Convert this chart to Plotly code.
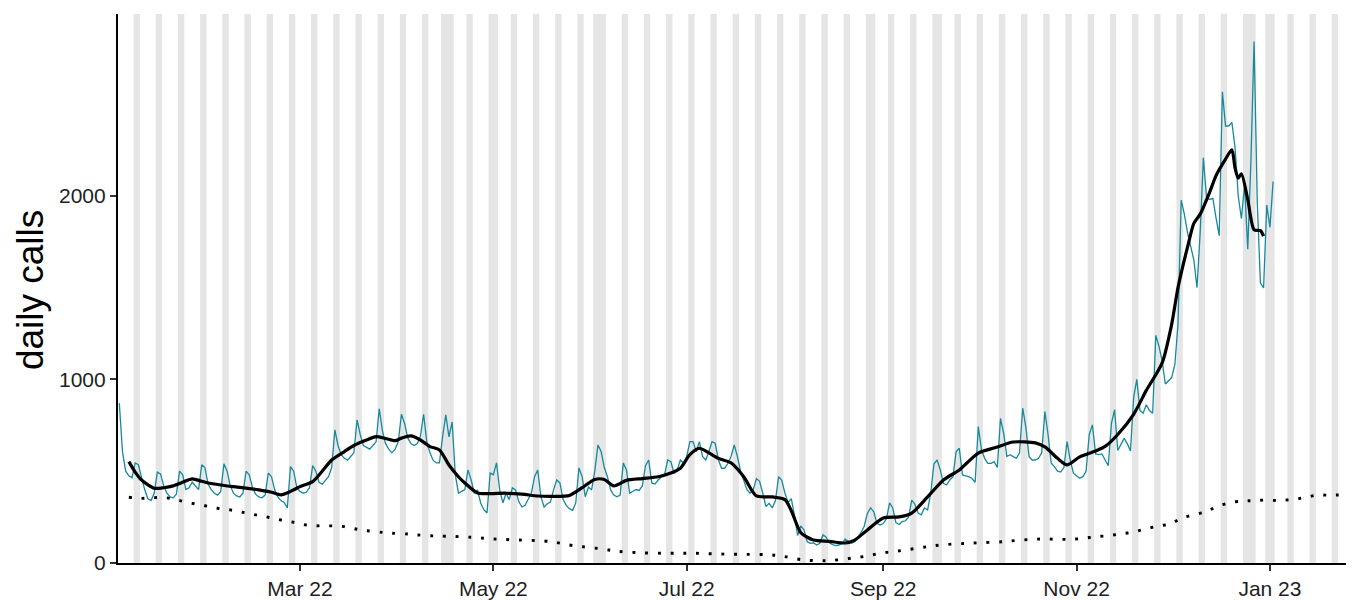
import pandas as pd
import plotly.graph_objects as go

# ---------------- data ----------------
start_date = "2022-01-03"
# one row per week, Monday .. Sunday
daily_calls = [
    870, 605, 500, 475, 465, 545, 535,
    465, 400, 350, 340, 380, 495, 485,
    420, 380, 360, 355, 375, 500, 480,
    400, 410, 440, 420, 400, 535, 520,
    430, 400, 380, 370, 390, 540, 500,
    420, 380, 365, 360, 380, 500, 480,
    410, 375, 360, 355, 370, 490, 470,
    400, 360, 340, 330, 300, 525, 500,
    410, 390, 380, 385, 410, 530, 500,
    440, 430, 450, 470, 520, 725, 640,
    590, 570, 560, 580, 600, 780, 700,
    640, 630, 620, 640, 660, 840, 720,
    650, 620, 600, 620, 660, 810, 760,
    680, 650, 640, 650, 690, 810, 660,
    600, 560, 545, 545, 690, 807, 687,
    768, 480, 380, 390, 400, 507, 452,
    380, 398, 327, 290, 272, 490, 481,
    545, 398, 327, 380, 345, 409, 398,
    336, 305, 314, 345, 380, 470, 507,
    361, 305, 323, 332, 398, 452, 436,
    345, 314, 296, 287, 327, 518, 470,
    361, 414, 398, 500, 643, 607, 520,
    470, 398, 370, 361, 370, 545, 507,
    380, 389, 400, 395, 420, 530, 561,
    436, 430, 452, 470, 480, 561, 552,
    489, 507, 561, 543, 580, 661, 661,
    607, 661, 580, 561, 607, 661, 652,
    561, 516, 516, 543, 580, 643, 580,
    500, 450, 400, 380, 400, 460, 445,
    380, 307, 325, 300, 340, 470, 450,
    380, 330, 350, 260, 150, 202, 180,
    116, 107, 110, 98, 107, 153, 140,
    110, 100, 95, 98, 105, 130, 120,
    107, 116, 140, 165, 200, 270, 300,
    280, 216, 207, 215, 240, 327, 300,
    220, 210, 225, 230, 250, 343, 320,
    272, 262, 300, 289, 380, 540, 561,
    507, 434, 425, 452, 470, 607, 625,
    480, 475, 470, 460, 440, 743, 616,
    570, 543, 543, 552, 520, 788, 706,
    580, 590, 580, 570, 600, 843, 740,
    579, 561, 561, 570, 600, 825, 700,
    543, 525, 500, 495, 520, 661, 561,
    489, 475, 461, 470, 500, 700, 752,
    594, 590, 594, 560, 530, 760, 835,
    613, 650, 679, 650, 610, 900, 1000,
    830, 816, 862, 830, 816, 1240, 1180,
    1100, 975, 990, 1010, 1080, 1300, 1976,
    1900, 1800, 1720, 1650, 1500, 1800, 2207,
    1990, 1980, 1986, 1880, 1783, 2566, 2380,
    2380, 2400, 2262, 2000, 1875, 2060, 1709,
    2189, 2840, 1967, 1525, 1498, 1949, 1829,
    2078,
]

# smoothed (7-day) line
avg_dates = [
    "2022-01-06", "2022-01-08", "2022-01-10", "2022-01-14", "2022-01-17", "2022-01-20",
    "2022-01-23", "2022-01-26", "2022-01-29", "2022-01-31", "2022-02-04", "2022-02-08",
    "2022-02-12", "2022-02-16", "2022-02-20", "2022-02-23", "2022-02-26", "2022-03-01",
    "2022-03-05", "2022-03-08", "2022-03-11", "2022-03-15", "2022-03-18", "2022-03-22",
    "2022-03-25", "2022-03-28", "2022-03-31", "2022-04-02", "2022-04-05", "2022-04-08",
    "2022-04-11", "2022-04-14", "2022-04-17", "2022-04-20", "2022-04-22", "2022-04-26",
    "2022-04-30", "2022-05-05", "2022-05-10", "2022-05-15", "2022-05-20", "2022-05-25",
    "2022-05-29", "2022-06-02", "2022-06-05", "2022-06-08", "2022-06-12", "2022-06-17",
    "2022-06-22", "2022-06-26", "2022-06-29", "2022-07-02", "2022-07-05", "2022-07-08",
    "2022-07-11", "2022-07-15", "2022-07-19", "2022-07-23", "2022-07-28", "2022-08-01",
    "2022-08-03", "2022-08-06", "2022-08-10", "2022-08-15", "2022-08-20", "2022-08-23",
    "2022-08-27", "2022-09-01", "2022-09-06", "2022-09-10", "2022-09-15", "2022-09-20",
    "2022-09-25", "2022-10-01", "2022-10-07", "2022-10-12", "2022-10-19", "2022-10-22",
    "2022-10-26", "2022-10-29", "2022-11-02", "2022-11-07", "2022-11-10", "2022-11-14",
    "2022-11-19", "2022-11-23", "2022-11-28", "2022-12-01", "2022-12-03", "2022-12-06",
    "2022-12-08", "2022-12-10", "2022-12-13", "2022-12-15", "2022-12-18", "2022-12-20",
    "2022-12-21", "2022-12-22", "2022-12-23", "2022-12-25", "2022-12-27", "2022-12-29",
    "2022-12-30",
]
avg_values = [
    552, 495, 452, 407, 410, 420,
    440, 458, 445, 436, 425, 416,
    408, 398, 385, 371, 390, 416,
    443, 500, 561, 607, 640, 670,
    688, 678, 666, 680, 692, 670,
    634, 616, 534, 470, 436, 381,
    378, 380, 375, 365, 363, 368,
    410, 455, 455, 420, 450, 460,
    470, 490, 516, 590, 625, 600,
    570, 545, 470, 365, 360, 345,
    285, 165, 125, 118, 109, 125,
    180, 245, 251, 272, 360, 452,
    507, 599, 632, 659, 654, 632,
    570, 534, 578, 610, 635, 700,
    810, 940, 1090, 1300, 1500, 1720,
    1850, 1900, 2020, 2110, 2200, 2250,
    2150, 2096, 2120, 1980, 1815, 1810,
    1780,
]

# dotted baseline curve
base_dates = [
    "2022-01-06", "2022-01-10", "2022-01-14", "2022-01-18", "2022-01-22", "2022-01-26",
    "2022-01-30", "2022-02-03", "2022-02-07", "2022-02-11", "2022-02-15", "2022-02-19",
    "2022-02-23", "2022-02-27", "2022-03-03", "2022-03-07", "2022-03-11", "2022-03-15",
    "2022-03-19", "2022-03-22", "2022-03-27", "2022-03-30", "2022-04-04", "2022-04-07",
    "2022-04-12", "2022-04-16", "2022-04-24", "2022-05-01", "2022-05-09", "2022-05-17",
    "2022-05-21", "2022-05-25", "2022-05-29", "2022-06-05", "2022-06-09", "2022-06-16",
    "2022-06-25", "2022-07-03", "2022-07-11", "2022-07-19", "2022-07-27", "2022-08-01",
    "2022-08-07", "2022-08-12", "2022-08-15", "2022-08-19", "2022-08-23", "2022-08-27",
    "2022-08-31", "2022-09-04", "2022-09-08", "2022-09-15", "2022-09-19", "2022-09-24",
    "2022-09-28", "2022-10-02", "2022-10-07", "2022-10-10", "2022-10-14", "2022-10-18",
    "2022-10-22", "2022-10-26", "2022-10-30", "2022-11-03", "2022-11-07", "2022-11-11",
    "2022-11-15", "2022-11-19", "2022-11-23", "2022-11-27", "2022-12-01", "2022-12-04",
    "2022-12-08", "2022-12-12", "2022-12-15", "2022-12-20", "2022-12-24", "2022-12-27",
    "2022-12-31", "2023-01-04", "2023-01-08", "2023-01-12", "2023-01-16", "2023-01-20",
    "2023-01-24",
]
base_values = [
    358, 352, 356, 355, 340, 325,
    312, 298, 289, 276, 262, 249,
    234, 222, 207, 202, 202, 198,
    184, 176, 167, 162, 158, 153,
    148, 146, 140, 131, 125, 120,
    111, 98, 89, 75, 64, 56,
    53, 53, 49, 47, 45, 35,
    16, 13, 13, 20, 29, 38,
    53, 62, 71, 89, 98, 104,
    107, 111, 114, 118, 124, 129,
    131, 129, 129, 134, 143, 149,
    159, 169, 187, 202, 215, 244,
    262, 281, 305, 331, 337, 340,
    343, 340, 347, 356, 370, 369,
    372,
]

bank_holidays = [
    "2022-04-15", "2022-04-18", "2022-05-02", "2022-06-02", "2022-06-03",
    "2022-08-29", "2022-09-19", "2022-12-26", "2022-12-27", "2023-01-02",
]

y_ticks = [0, 1000, 2000]
x_tick_dates = ["2022-03-01", "2022-05-01", "2022-07-01", "2022-09-01", "2022-11-01", "2023-01-01"]
x_tick_labels = ["Mar 22", "May 22", "Jul 22", "Sep 22", "Nov 22", "Jan 23"]
y_title = "daily calls"

# ---------------- figure ----------------
dates = pd.date_range(start_date, periods=len(daily_calls), freq="D")
x_range = [pd.Timestamp("2022-01-02 14:00"), pd.Timestamp("2023-01-25 00:00")]

# shaded weekends / bank holidays (one rect per contiguous run of days)
hol = set(pd.to_datetime(bank_holidays))
all_days = pd.date_range("2021-12-31", "2023-01-27", freq="D")
shaded = [d for d in all_days if d.weekday() >= 5 or d in hol]
runs = []
for d in shaded:
    if runs and (d - runs[-1][1]).days == 1:
        runs[-1][1] = d
    else:
        runs.append([d, d])
shapes = []
half = pd.Timedelta(hours=12)
for a, b in runs:
    shapes.append(dict(type="rect", xref="x", yref="paper",
                       x0=a - half, x1=b + half, y0=0, y1=1,
                       fillcolor="#E5E5E5", line=dict(width=0), layer="below"))

fig = go.Figure()
fig.add_trace(go.Scatter(x=dates, y=daily_calls, mode="lines",
                         line=dict(color="#17899C", width=1.3), name="daily"))
fig.add_trace(go.Scatter(x=pd.to_datetime(base_dates), y=base_values, mode="lines",
                         line=dict(color="black", width=2.9, dash="2.9px,9.8px", shape="spline"),
                         name="baseline"))
fig.add_trace(go.Scatter(x=pd.to_datetime(avg_dates), y=avg_values, mode="lines",
                         line=dict(color="black", width=3.2, shape="spline", smoothing=0.7),
                         name="average"))

axis_common = dict(showline=True, linecolor="black", linewidth=2.2, ticks="outside",
                   ticklen=6, tickwidth=2, tickcolor="#333333", showgrid=False,
                   zeroline=False, automargin=False,
                   tickfont=dict(size=21, color="#1e1e1e"))

# the page body has an 8px margin, so the figure is sized to fit the window
fig.update_layout(
    template="none",
    width=1348, height=592,
    margin=dict(l=110, r=10, t=6, b=37, pad=0),
    plot_bgcolor="white", paper_bgcolor="white",
    showlegend=False,
    font=dict(family="Liberation Sans, Arial, sans-serif"),
    shapes=shapes,
    xaxis=dict(range=x_range, tickvals=pd.to_datetime(x_tick_dates), ticktext=x_tick_labels,
               **axis_common),
    yaxis=dict(range=[0, 2990], tickvals=y_ticks, ticktext=[str(v) for v in y_ticks],
               **axis_common),
    annotations=[dict(text=y_title, xref="paper", yref="paper", x=-0.0717, y=0.497,
                      xanchor="center", yanchor="middle", textangle=-90, showarrow=False,
                      font=dict(size=37, color="black"))],
)

fig.write_html("out.html")
